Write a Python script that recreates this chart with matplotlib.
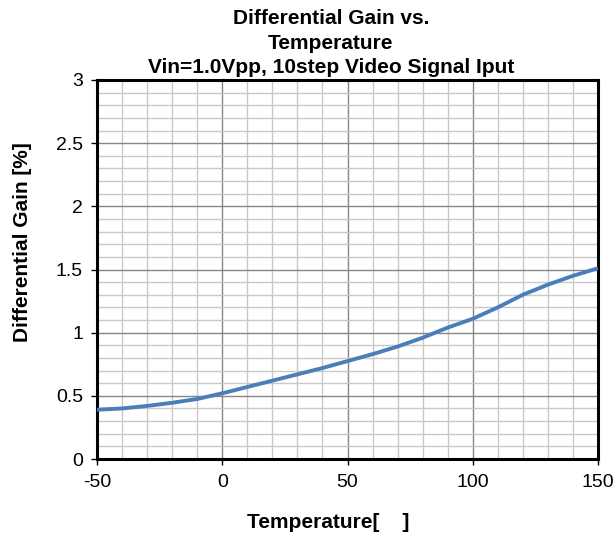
import matplotlib
matplotlib.use("Agg")
import matplotlib.pyplot as plt
from matplotlib.ticker import MultipleLocator

temps = [-50, -40, -30, -20, -10, 0, 10, 20, 30, 40, 50, 60, 70, 80, 90, 100, 110, 120, 130, 140, 150]
gain = [0.39, 0.40, 0.42, 0.445, 0.475, 0.52, 0.57, 0.62, 0.67, 0.72, 0.775, 0.83, 0.89, 0.96, 1.04, 1.11, 1.20, 1.30, 1.38, 1.45, 1.51]
x_ticks = [-50, 0, 50, 100, 150]
y_ticks = [0, 0.5, 1, 1.5, 2, 2.5, 3]
y_tick_labels = ["0", "0.5", "1", "1.5", "2", "2.5", "3"]
title_lines = ["Differential Gain vs.", "Temperature", "Vin=1.0Vpp, 10step Video Signal Iput"]

plt.rcParams['font.family'] = ['Liberation Sans', 'DejaVu Sans']
plt.rcParams['axes.unicode_minus'] = False

W, H = 614, 537
fig = plt.figure(figsize=(W / 100, H / 100), dpi=100)
ax = fig.add_axes([97 / W, 1 - 459 / H, 501 / W, 379 / H])

ax.plot(temps, gain, color='#4a7ebb', lw=2.8, solid_capstyle='butt', zorder=3)

ax.set_xlim(-50, 150)
ax.set_ylim(0, 3)
ax.set_xticks(x_ticks)
ax.set_yticks(y_ticks)
ax.set_yticklabels(y_tick_labels)
ax.xaxis.set_minor_locator(MultipleLocator(10))
ax.yaxis.set_minor_locator(MultipleLocator(0.1))
ax.grid(which='minor', color='#c8c8c8', lw=1.0, zorder=0)
ax.grid(which='major', color='#868686', lw=1.0, zorder=1)
ax.set_axisbelow(True)

for s in ax.spines.values():
    s.set_color('black')
    s.set_linewidth(2.2)

ax.tick_params(which='major', direction='out', length=4, width=1, labelsize=14)
ax.tick_params(axis='x', pad=7)
ax.tick_params(axis='y', pad=6)
ax.tick_params(which='minor', length=0)

fig.text(328 / W, 1 - 522 / H, 'Temperature[    ]', fontsize=15, fontweight='bold',
         ha='center', va='center')
fig.text(23 / W, 1 - 242 / H, 'Differential Gain [%]', fontsize=15, fontweight='bold',
         ha='center', va='center', rotation=90)
for line, base in zip(title_lines, [24, 49, 73]):
    fig.text(331 / W, 1 - base / H, line, fontsize=15, fontweight='bold',
             ha='center', va='baseline')

fig.savefig('out.png', dpi=100)
